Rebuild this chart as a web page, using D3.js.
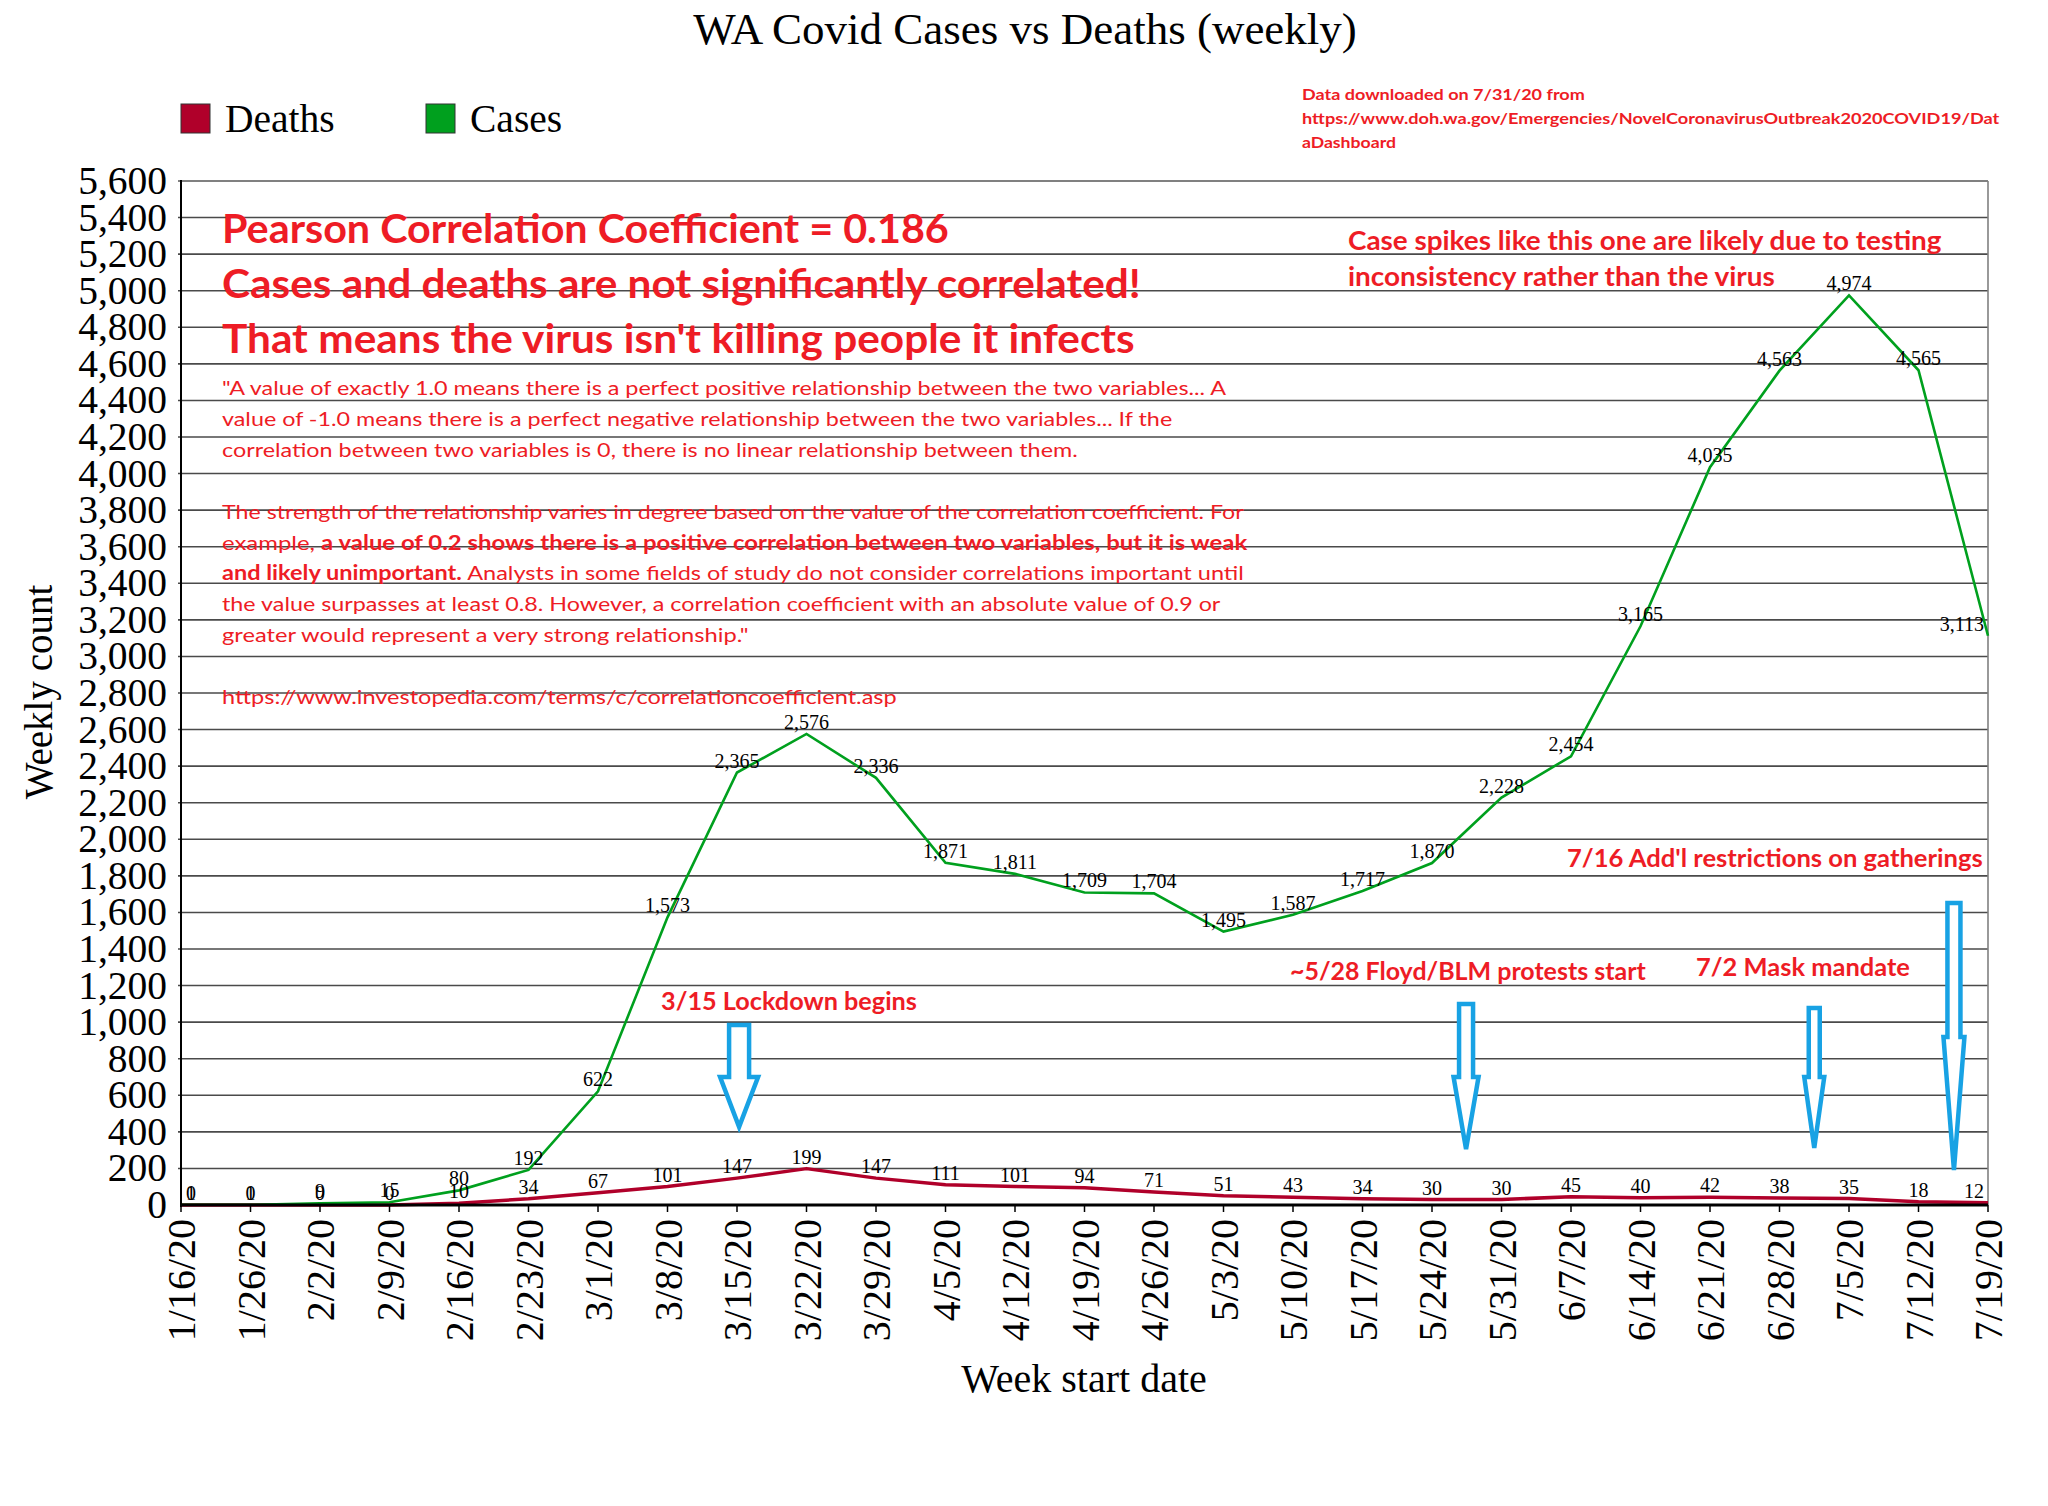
<!DOCTYPE html>
<html>
<head>
<meta charset="utf-8">
<script src="https://cdn.jsdelivr.net/npm/d3@7"></script>
<style>
  html, body { margin: 0; padding: 0; background: #ffffff; }
  svg { display: block; }
</style>
</head>
<body>
<svg id="chart" width="2048" height="1506"></svg>
<script>
// ---------------- DATA ----------------
const dates = ["1/16/20","1/26/20","2/2/20","2/9/20","2/16/20","2/23/20","3/1/20","3/8/20","3/15/20",
  "3/22/20","3/29/20","4/5/20","4/12/20","4/19/20","4/26/20","5/3/20","5/10/20","5/17/20","5/24/20",
  "5/31/20","6/7/20","6/14/20","6/21/20","6/28/20","7/5/20","7/12/20","7/19/20"];
const cases = [1,1,9,15,80,192,622,1573,2365,2576,2336,1871,1811,1709,1704,1495,1587,1717,1870,
  2228,2454,3165,4035,4563,4974,4565,3113];
const deaths = [0,0,0,0,10,34,67,101,147,199,147,111,101,94,71,51,43,34,30,30,45,40,42,38,35,18,12];
const yTicks = [0,200,400,600,800,1000,1200,1400,1600,1800,2000,2200,2400,2600,2800,3000,3200,3400,
  3600,3800,4000,4200,4400,4600,4800,5000,5200,5400,5600];
const seriesNames = ["Deaths","Cases"];
const seriesColors = ["#b0002a","#00a01e"];

const titleText = "WA Covid Cases vs Deaths (weekly)";
const xTitle = "Week start date";
const yTitle = "Weekly count";
const sourceLines = ["Data downloaded on 7/31/20 from",
  "https://www.doh.wa.gov/Emergencies/NovelCoronavirusOutbreak2020COVID19/Dat",
  "aDashboard"];
const headLines = ["Pearson Correlation Coefficient = 0.186",
  "Cases and deaths are not significantly correlated!",
  "That means the virus isn't killing people it infects"];
// paragraph lines: arrays of [text, bold]
const paraLines = [
  [["\"A value of exactly 1.0 means there is a perfect positive relationship between the two variables... A", false]],
  [["value of -1.0 means there is a perfect negative relationship between the two variables... If the", false]],
  [["correlation between two variables is 0, there is no linear relationship between them.", false]],
  null,
  [["The strength of the relationship varies in degree based on the value of the correlation coefficient. For", false]],
  [["example, ", false],["a value of 0.2 shows there is a positive correlation between two variables, but it is weak", true]],
  [["and likely unimportant.", true],[" Analysts in some fields of study do not consider correlations important until", false]],
  [["the value surpasses at least 0.8. However, a correlation coefficient with an absolute value of 0.9 or", false]],
  [["greater would represent a very strong relationship.\"", false]],
  null,
  [["https://www.investopedia.com/terms/c/correlationcoefficient.asp", false]]
];
const paraWidths = [1005, 951, 856, 0, 1022, 1026, 1022, 999, 527, 0, 675];
const spikeLines = ["Case spikes like this one are likely due to testing", "inconsistency rather than the virus"];
const events = ["3/15 Lockdown begins", "~5/28 Floyd/BLM protests start", "7/2 Mask mandate", "7/16 Add'l restrictions on gatherings"];
// arrow position in category-index units, and y levels in data units
const arrowIdx  = [8.03, 18.49, 23.5, 25.51];
const arrowTop  = [984, 1099, 1077, 1652];
const arrowHead = [700, 700, 700, 919];
const arrowTip  = [427, 306, 312, 191];

// ---------------- LAYOUT ----------------
const L = 181, R = 1988, T = 181, B = 1205;
const red = "#ee1c25";
const serif = "'Liberation Serif', 'Times New Roman', serif";
const sans = "Lato, 'Open Sans', 'Noto Sans', sans-serif";

const svg = d3.select("#chart");
svg.append("rect").attr("width", 2048).attr("height", 1506).attr("fill", "#fff");

const x = d3.scalePoint().domain(dates).range([L, R]).padding(0);
const y = d3.scaleLinear().domain([0, 5600]).range([B, T]);
const step = x.step();
const xIdx = v => L + v * step;
const fmt = d3.format(",");

// fit helper: squeeze/stretch text horizontally to a target width
function fit(sel, x0, yb, width) {
  const n = sel.node();
  const w = n.getComputedTextLength();
  const s = width / w;
  sel.attr("x", 0).attr("y", 0).attr("transform", `translate(${x0},${yb}) scale(${s},1)`);
  return sel;
}

// gridlines
svg.append("g").selectAll("line").data(yTicks.filter(d => d > 0)).join("line")
  .attr("x1", L - 3).attr("x2", R)
  .attr("y1", d => y(d)).attr("y2", d => y(d))
  .attr("stroke", d => d === 5600 ? "#808080" : "#4a4a4a")
  .attr("stroke-width", d => d === 5600 ? 2.2 : 1.6);
// right frame
svg.append("line").attr("x1", R).attr("x2", R).attr("y1", T).attr("y2", B)
  .attr("stroke", "#808080").attr("stroke-width", 1.6);

// title
svg.append("text").attr("x", 1025).attr("y", 44).attr("text-anchor", "middle")
  .attr("font-family", serif).attr("font-size", 45).attr("fill", "#000").text(titleText);

// legend
const legX = [181, 426];
seriesNames.forEach((nm, i) => {
  svg.append("rect").attr("x", legX[i]).attr("y", 104).attr("width", 29).attr("height", 29)
    .attr("fill", seriesColors[i]).attr("stroke", "#333").attr("stroke-width", 1);
  svg.append("text").attr("x", legX[i] + 44).attr("y", 132)
    .attr("font-family", serif).attr("font-size", 39.5).attr("fill", "#000").text(nm);
});

// source note
const srcW = [283, 698, 94];
sourceLines.forEach((t, i) => {
  const s = svg.append("text").attr("font-family", sans).attr("font-weight", 700)
    .attr("font-size", 16).attr("fill", red).text(t);
  fit(s, 1302, 100 + i * 24, srcW[i]);
});

// headline lines
const headW = [727, 919, 913];
headLines.forEach((t, i) => {
  const s = svg.append("text").attr("font-family", sans).attr("font-weight", 700)
    .attr("font-size", 40).attr("fill", red).text(t);
  fit(s, 222, 243 + i * 55, headW[i]);
});

// paragraph
paraLines.forEach((parts, i) => {
  if (!parts) return;
  const t = svg.append("text").attr("font-family", sans).attr("font-size", 20).attr("fill", red);
  parts.forEach(([txt, b]) => t.append("tspan").attr("font-weight", b ? 700 : 400).text(txt));
  fit(t, 222, 395 + i * 30.9, paraWidths[i]);
});

// spike annotation
const spikeW = [594, 427];
spikeLines.forEach((t, i) => {
  const s = svg.append("text").attr("font-family", sans).attr("font-weight", 700)
    .attr("font-size", 26).attr("fill", red).text(t);
  fit(s, 1348, 250 + i * 36, spikeW[i]);
});

// event labels
const evX = [661, 1290, 1696, 1567], evY = [1010, 980, 976, 867], evW = [256, 356, 214, 416];
events.forEach((t, i) => {
  const s = svg.append("text").attr("font-family", sans).attr("font-weight", 700)
    .attr("font-size", 25).attr("fill", red).text(t);
  fit(s, evX[i], evY[i], evW[i]);
});

// arrows
const shaftHalf = [10, 7, 5.5, 6.5], headHalf = [19, 12.5, 10, 10.5];
arrowIdx.forEach((ix, i) => {
  const cx = xIdx(ix), yt = y(arrowTop[i]), yh = y(arrowHead[i]), yp = y(arrowTip[i]);
  const sw = shaftHalf[i], hw = headHalf[i];
  const p = `M${cx - sw},${yt} L${cx + sw},${yt} L${cx + sw},${yh} L${cx + hw},${yh} L${cx},${yp} L${cx - hw},${yh} L${cx - sw},${yh} Z`;
  svg.append("path").attr("d", p).attr("fill", "#fff").attr("stroke", "#18a2e4")
    .attr("stroke-width", 4.5).attr("stroke-linejoin", "miter");
});

// lines
const line = d3.line().x((d, i) => x(dates[i])).y(d => y(d));
svg.append("path").datum(deaths).attr("d", line).attr("fill", "none")
  .attr("stroke", seriesColors[0]).attr("stroke-width", 3.5).attr("stroke-linejoin", "round");
svg.append("path").datum(cases).attr("d", line).attr("fill", "none")
  .attr("stroke", seriesColors[1]).attr("stroke-width", 2.6).attr("stroke-linejoin", "miter");

// data labels
function labels(vals) {
  const g = svg.append("g");
  vals.forEach((v, i) => {
    const t = g.append("text").attr("font-family", serif).attr("font-size", 20).attr("fill", "#000")
      .text(fmt(v));
    const w = t.node().getComputedTextLength();
    let lx = x(dates[i]) - w / 2;
    lx = Math.max(L + 5, Math.min(R - 4 - w, lx));
    t.attr("x", lx).attr("y", y(v) - 5);
  });
}
labels(deaths);
labels(cases);

// axes
svg.append("line").attr("x1", L).attr("x2", L).attr("y1", T - 1).attr("y2", B + 2)
  .attr("stroke", "#000").attr("stroke-width", 2);
svg.append("line").attr("x1", L - 1).attr("x2", R).attr("y1", B).attr("y2", B)
  .attr("stroke", "#000").attr("stroke-width", 3);
svg.append("g").selectAll("line").data(dates).join("line")
  .attr("x1", d => x(d)).attr("x2", d => x(d)).attr("y1", B).attr("y2", B + 7)
  .attr("stroke", "#000").attr("stroke-width", 1.5);

// y tick labels
svg.append("g").selectAll("text").data(yTicks).join("text")
  .attr("x", 167).attr("y", d => y(d)).attr("dy", "0.33em").attr("text-anchor", "end")
  .attr("font-family", serif).attr("font-size", 39.5).attr("fill", "#000")
  .text(d => fmt(d));

// x tick labels
svg.append("g").selectAll("text").data(dates).join("text")
  .attr("transform", d => `translate(${x(d)},${B + 14}) rotate(-90)`)
  .attr("dy", "0.35em").attr("text-anchor", "end")
  .attr("font-family", serif).attr("font-size", 40).attr("fill", "#000")
  .text(d => d);

// axis titles
svg.append("text").attr("x", 1084).attr("y", 1392).attr("text-anchor", "middle")
  .attr("font-family", serif).attr("font-size", 40).attr("fill", "#000").text(xTitle);
svg.append("text").attr("transform", "translate(52,692) rotate(-90)").attr("text-anchor", "middle")
  .attr("font-family", serif).attr("font-size", 39).attr("fill", "#000").text(yTitle);
</script>
</body>
</html>
